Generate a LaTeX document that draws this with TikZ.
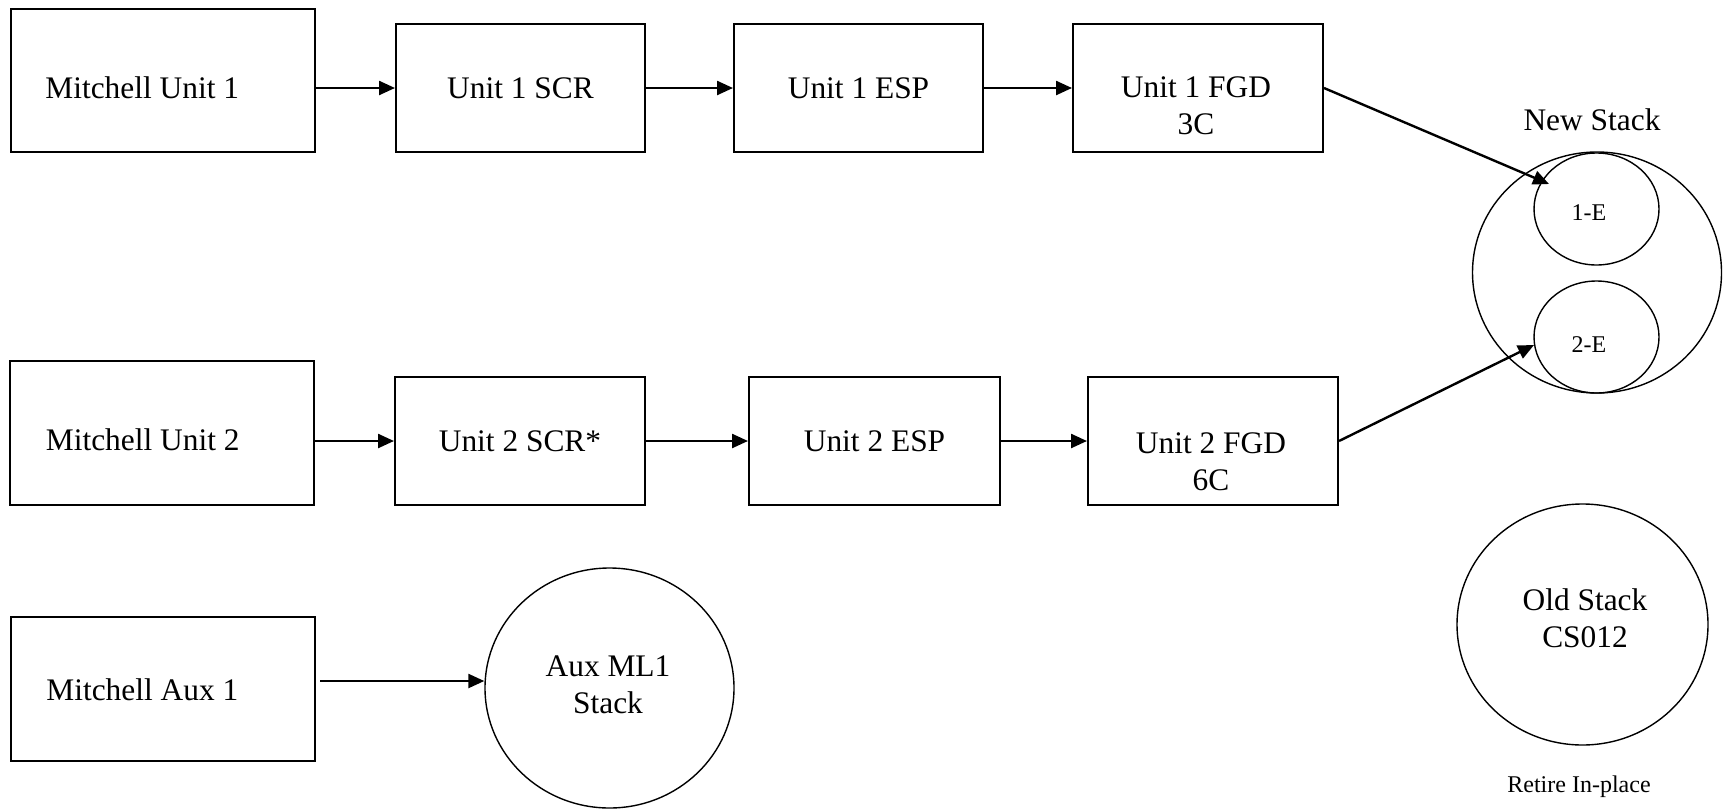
\documentclass[tikz,border=0pt]{standalone}
\usepackage{fontspec}
\setmainfont{Liberation Serif}
\usetikzlibrary{arrows.meta,shapes.geometric}
\begin{document}
\begin{tikzpicture}[x=0.5pt,y=-0.5pt,
  big/.style={font=\fontsize{15.7}{18.3}\selectfont},
  small/.style={font=\fontsize{12}{14}\selectfont},
  boxnode/.style={draw,line width=1pt,inner sep=0pt,minimum width=#1},
  boxnode/.default=124.5pt,
  ring/.style={draw,ellipse,line width=0.7pt,inner sep=0pt},
  lbl/.style={inner sep=0pt,align=center},
  arr/.style={line width=1.2pt,-{Triangle[length=8pt,width=7pt]}}
]
\useasboundingbox (0,0) rectangle (1723,809);

% row 1
\node[boxnode=152pt,minimum height=71.5pt] (mu1) at (163,80.5) {};
\node[lbl,big,anchor=west] (mu1t) at (45,88) {Mitchell Unit 1};
\node[boxnode,minimum height=64pt,big] (scr1) at (520.5,88) {Unit 1 SCR};
\node[boxnode,minimum height=64pt,big] (esp1) at (858.5,88) {Unit 1 ESP};
\node[boxnode=125pt,minimum height=64pt] (fgd1) at (1198,88) {};
\node[lbl,big] (fgd1t) at (1196,106) {Unit 1 FGD\\3C};

% row 2
\node[boxnode=152pt,minimum height=72pt] (mu2) at (162,433) {};
\node[lbl,big,anchor=west] (mu2t) at (45.5,440) {Mitchell Unit 2};
\node[boxnode=125pt,minimum height=64pt,big] (scr2) at (520,441) {Unit 2 SCR*};
\node[boxnode=125.5pt,minimum height=64pt,big] (esp2) at (874.5,441) {Unit 2 ESP};
\node[boxnode=125pt,minimum height=64pt] (fgd2) at (1213,441) {};
\node[lbl,big] (fgd2t) at (1211,461.5) {Unit 2 FGD\\6C};

% row 3
\node[boxnode=152pt,minimum height=72pt] (mua) at (163,689) {};
\node[lbl,big,anchor=west] (muat) at (46,690) {Mitchell Aux 1};
\node[ring,minimum width=124.5pt,minimum height=120pt] (aux) at (609.5,688) {};
\node[lbl,big] (auxt) at (608,685) {Aux ML1\\Stack};

% new stack
\node[lbl,big] (nst) at (1592,120) {New Stack};
\node[ring,minimum width=124.5pt,minimum height=120.5pt] (ns) at (1597,272.5) {};
\node[ring,minimum width=62.5pt,minimum height=56pt] (e1) at (1596.5,209) {};
\node[lbl,small] (e1t) at (1589,213) {1-E};
\node[ring,minimum width=62.5pt,minimum height=56pt] (e2) at (1596.5,337) {};
\node[lbl,small] (e2t) at (1589,345) {2-E};

% old stack
\node[ring,minimum width=125.5pt,minimum height=120.5pt] (old) at (1582.5,624.5) {};
\node[lbl,big] (oldt) at (1585,618) {Old Stack\\CS012};
\node[lbl,small] (ret) at (1579,787) {Retire In-place};

% connectors
\draw[arr] (mu1.east |- scr1.west) -- (scr1.west);
\draw[arr] (scr1.east) -- (esp1.west);
\draw[arr] (esp1.east) -- (fgd1.west);
\draw[arr] (mu2.east |- scr2.west) -- (scr2.west);
\draw[arr] (scr2.east) -- (esp2.west);
\draw[arr] (esp2.east) -- (fgd2.west);
\coordinate (auxs) at (320,681);
\draw[arr] (auxs) -- (auxs -| aux.west);
\coordinate (t1) at (1549,184);
\draw[arr] (fgd1.east) -- (t1);
\coordinate (t2) at (1534,345);
\draw[arr] (fgd2.east) -- (t2);
\end{tikzpicture}
\end{document}
